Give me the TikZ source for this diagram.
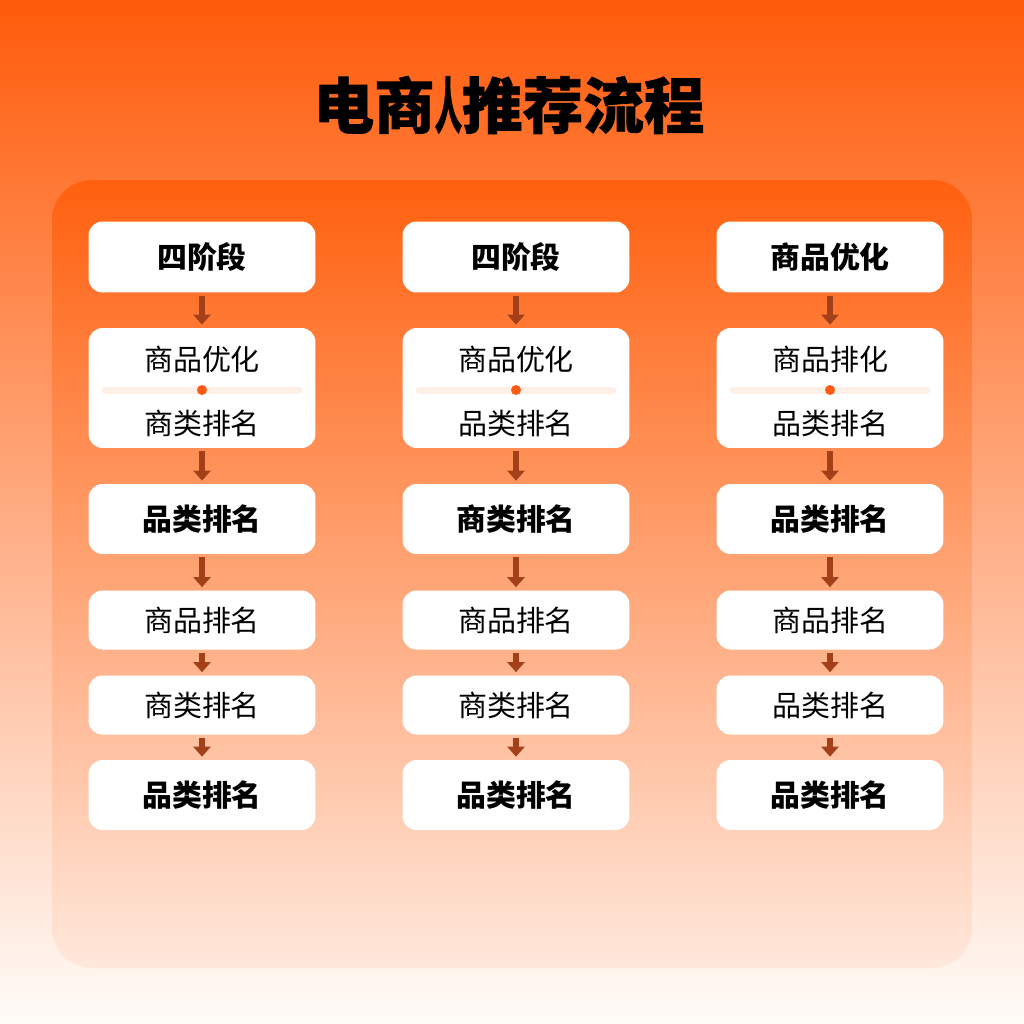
\documentclass[tikz,border=0pt]{standalone}
\usepackage{fontspec}
\usetikzlibrary{arrows.meta,positioning}
\newfontfamily\cjk{Noto Sans CJK SC}
\newfontfamily\cjktitle[BoldFeatures={FakeBold=1.2}]{Noto Sans CJK SC}
\definecolor{flowbrown}{HTML}{A3401A}
\definecolor{dotorange}{HTML}{FF5A14}
\definecolor{sepline}{HTML}{FEF0E6}
\tikzset{
  card/.style={fill=white, rounded corners=0.28cm, minimum width=4.54cm, inner sep=0pt},
  cardtext/.style={font=\cjk\fontsize{16.5pt}{19pt}\selectfont, text=black},
  cardbold/.style={font=\cjk\bfseries\fontsize{17pt}{19pt}\selectfont, text=black},
  flow/.style={draw=flowbrown, line width=0.11cm, -{Triangle[width=0.34cm,length=0.2cm]}, shorten >=0.06cm, shorten <=0.06cm}
}
\begin{document}
\begin{tikzpicture}[x=0.02cm, y=-0.02cm]
  \useasboundingbox (0,0) rectangle (1024,1024);
  % background and panel
  \shade[top color={rgb,255:red,255;green,91;blue,10}, middle color={rgb,255:red,255;green,160;blue,110}, bottom color={rgb,255:red,255;green,252;blue,249}] (0,0) rectangle (1024,1024);
  \shade[rounded corners=0.8cm, top color={rgb,255:red,255;green,96;blue,14}, middle color={rgb,255:red,255;green,136;blue,70}, bottom color={rgb,255:red,255;green,232;blue,220}] (52,180) rectangle (972,968);
  % title
  \node[font=\cjktitle\bfseries\fontsize{34.5pt}{40pt}\selectfont] (title) at (509,105) {电商\scalebox{0.45}[1]{人}推荐流程};

  \foreach \c/\x/\ta/\tb/\tc/\td/\te/\tf/\tg in {
      1/202/四阶段/商品优化/商类排名/品类排名/商品排名/商类排名/品类排名,
      2/516/四阶段/商品优化/品类排名/商类排名/商品排名/商类排名/品类排名,
      3/830/商品优化/商品排化/品类排名/品类排名/商品排名/品类排名/品类排名} {
    \node[card, cardbold, minimum height=1.42cm] (r1c\c) at (\x,257) {\ta};
    \node[card, minimum height=2.4cm] (r2c\c) at (\x,388) {};
    \node[cardtext] (r2ac\c) at (\x,359) {\tb};
    \node[cardtext] (r2bc\c) at (\x,423) {\tc};
    \draw[sepline, line width=0.14cm, line cap=round] ([xshift=0.34cm, yshift=-0.04cm]r2c\c.west) -- ([xshift=-0.34cm, yshift=-0.04cm]r2c\c.east);
    \fill[dotorange] ([yshift=-0.04cm]r2c\c.center) circle (0.1cm);
    \node[card, cardbold, minimum height=1.4cm] (r3c\c) at (\x,519) {\td};
    \node[card, cardtext, minimum height=1.18cm] (r4c\c) at (\x,620) {\te};
    \node[card, cardtext, minimum height=1.18cm] (r5c\c) at (\x,705) {\tf};
    \node[card, cardbold, minimum height=1.4cm] (r6c\c) at (\x,795) {\tg};
    \draw[flow] (r1c\c) -- (r2c\c);
    \draw[flow] (r2c\c) -- (r3c\c);
    \draw[flow] (r3c\c) -- (r4c\c);
    \draw[flow] (r4c\c) -- (r5c\c);
    \draw[flow] (r5c\c) -- (r6c\c);
  }
\end{tikzpicture}
\end{document}
